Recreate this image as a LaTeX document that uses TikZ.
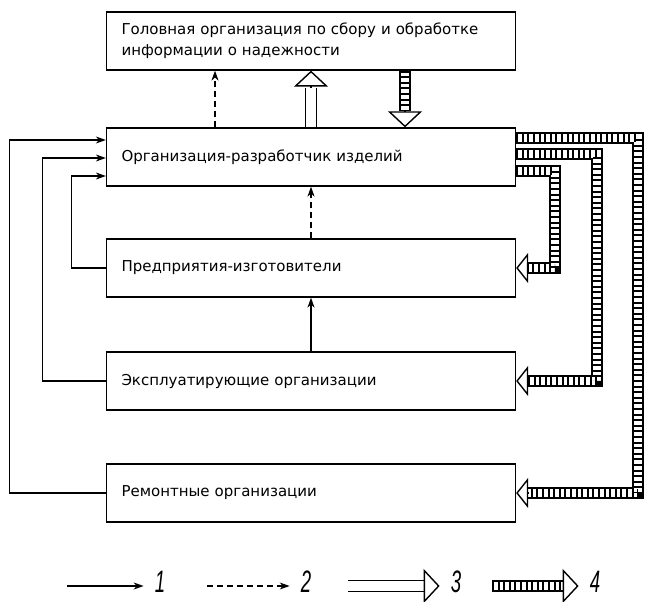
\documentclass[tikz,border=0pt]{standalone}
\usepackage{fontspec}
\setmainfont{DejaVu Sans}
\newfontfamily\numfont[FakeStretch=0.6]{Liberation Sans}
\usetikzlibrary{arrows.meta,calc}

\begin{document}
\begin{tikzpicture}[
      x=1pt,
      y=-1pt,
      font=\fontsize{15}{21}\selectfont,
      unit/.style={
        draw, line width=1.3pt, align=left,
        text width=379pt, inner xsep=15pt, minimum height=58pt
      },
      flow/.style={-{Stealth[length=10pt,width=7pt]}, line width=1.2pt},
      dflow/.style={flow, dash pattern=on 6pt off 4pt},
      hollow/.style={double, double distance=10pt, line width=1.4pt},
      hollowhead/.style={
        -{Triangle[open, fill=white, length=16pt, width=34pt, line width=1.4pt]},
        line width=1.4pt
      },
      hatch/.style={
        draw, line width=12pt,
        postaction={draw=white, line width=8pt},
        postaction={draw=black, line width=8pt, dash pattern=on 2pt off 3.6pt}
      },
      hatchhead/.style={
        -{Triangle[open, fill=white, length=12pt, width=30pt, line width=1.4pt]},
        line width=1.4pt
      },
      legend/.style={font=\numfont\itshape\fontsize{31}{31}\selectfont,
        inner ysep=2pt, inner xsep=11pt}
    ]
    \useasboundingbox (0,0) rectangle (646,602);

    \node[unit] (top) at (311,41)
      {Головная организация по сбору и обработке\\информации о надежности};
    \node[unit] (b2) at (311,157) {Организация-разработчик изделий};
    \node[unit] (b3) at (311,268) {Предприятия-изготовители};
    \node[unit] (b4) at (311,381) {Эксплуатирующие организации};
    \node[unit] (b5) at (311,493) {Ремонтные организации};

    % feedback on the left
    \draw[flow] (b5.west) -- ++(-96,0) |- ([yshift=17pt]b2.west);
    \draw[flow] (b4.west) -- ++(-63,0) |- ([yshift=-1pt]b2.west);
    \draw[flow] (b3.west) -- ++(-34,0) |- ([yshift=-19pt]b2.west);

    \draw[dflow] (b3.north) -- (b2.south);
    \draw[flow] (b4.north) -- (b3.south);

    % links with the head organisation
    \draw[dflow] ($(b2.north)+(-96,0)$) -- ($(top.south)+(-96,0)$);
    \draw[hollow] (b2.north) -- ($(top.south)+(0,17)$);
    \draw[hollowhead] ($(top.south)+(0,17)$) -- (top.south);
    \draw[hatch] ($(top.south)+(94,0)$) -- ($(b2.north)+(94,-16)$);
    \draw[hollowhead] ($(b2.north)+(94,-16)$) -- ($(b2.north)+(94,0)$);

    % hatched lines on the right
    \draw[hatch] ([yshift=19pt]b2.east) -- ++(122,0) |- ($(b5.east)+(12,0)$);
    \draw[hatchhead] ($(b5.east)+(12,0)$) -- (b5.east);
    \draw[hatch] ([yshift=3pt]b2.east) -- ++(81,0) |- ($(b4.east)+(12,0)$);
    \draw[hatchhead] ($(b4.east)+(12,0)$) -- (b4.east);
    \draw[hatch] ([yshift=-14pt]b2.east) -- ++(39,0) |- ($(b3.east)+(12,0)$);
    \draw[hatchhead] ($(b3.east)+(12,0)$) -- (b3.east);

    % legend
    \coordinate (k1) at (67,586);
    \coordinate (k2) at (207,586);
    \coordinate (k3) at (348,586);
    \coordinate (k4) at (492,586);
    \node[legend] (n1) at (160,582) {1};
    \node[legend] (n2) at (306,582) {2};
    \node[legend] (n3) at (456,582) {3};
    \node[legend] (n4) at (595,582) {4};
    \draw[flow, line width=1.6pt] (k1) -- (k1 -| n1.west);
    \draw[dflow] (k2) -- (k2 -| n2.west);
    \draw[hollow] (k3) -- ($(k3 -| n3.west)+(-16,0)$);
    \draw[hollowhead] ($(k3 -| n3.west)+(-16,0)$) -- (k3 -| n3.west);
    \draw[hatch] (k4) -- ($(k4 -| n4.west)+(-14,0)$);
    \draw[hollowhead] ($(k4 -| n4.west)+(-14,0)$) -- (k4 -| n4.west);
  \end{tikzpicture}
\end{document}
